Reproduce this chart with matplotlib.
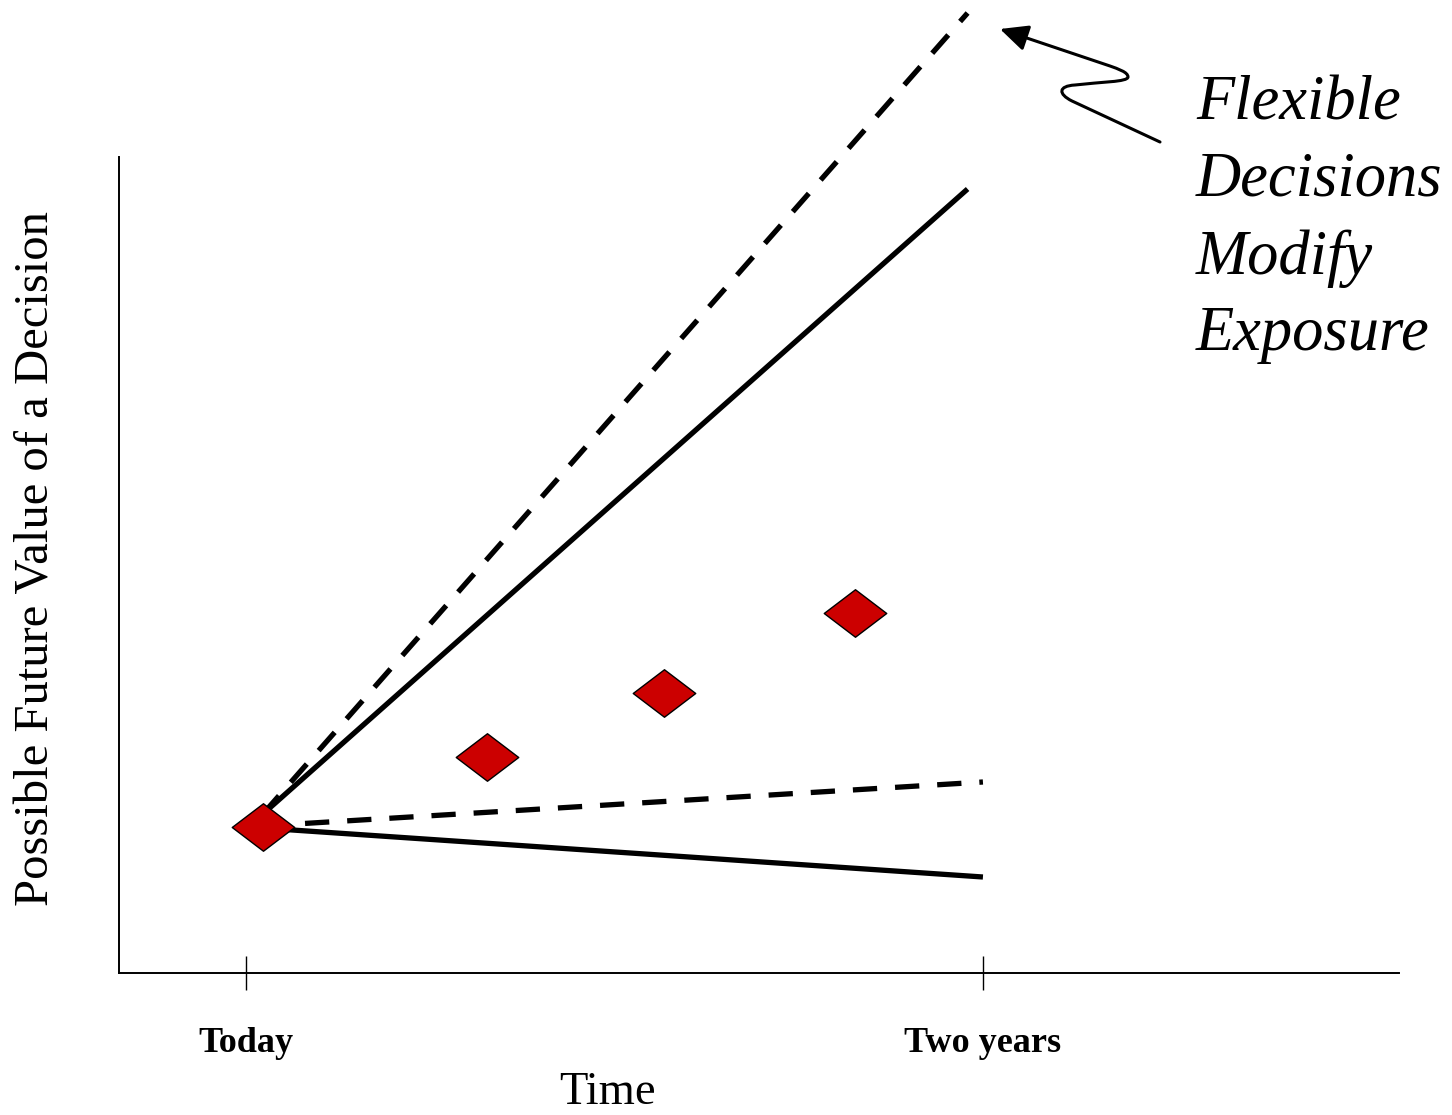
import matplotlib
matplotlib.use("Agg")
import matplotlib.pyplot as plt
import matplotlib.transforms as mtransforms
from matplotlib.path import Path
from matplotlib.patches import FancyArrowPatch

# ---------------- data (x in months from today, y in arbitrary value units) -------------
tick_positions = [0, 24]
tick_labels = ["Today", "Two years"]

upper_dashed_x = [0.55, 23.5]
upper_dashed_y = [15.9, 96.0]
upper_solid_x = [0.55, 23.5]
upper_solid_y = [15.9, 78.4]
lower_dashed_x = [0.55, 24.0]
lower_dashed_y = [14.7, 19.1]
lower_solid_x = [0.55, 24.0]
lower_solid_y = [14.5, 9.6]

diamond_x = [0.55, 7.85, 13.6, 19.83]
diamond_y = [14.6, 21.6, 28.0, 36.0]

annotation_text = "Flexible\nDecisions\nModify\nExposure"
xlabel_text = "Time"
ylabel_text = "Possible Future Value of a Decision"

# ---------------- figure ----------------
W, H = 1452, 1115
fig = plt.figure(figsize=(W / 100, H / 100), dpi=100)
ax = fig.add_axes([119 / W, (H - 973) / H, 1280 / W, 816 / H])
ax.set_xlim(-4.136, 37.55)
ax.set_ylim(0, 81.6)

serif = "Liberation Serif"
lw = 3.8
dash = (0, (4.6, 3.4))

ax.plot(upper_dashed_x, upper_dashed_y, color="black", lw=lw, ls=dash, clip_on=False, zorder=2)
ax.plot(upper_solid_x, upper_solid_y, color="black", lw=lw, clip_on=False, zorder=2,
        solid_capstyle="butt")
ax.plot(lower_dashed_x, lower_dashed_y, color="black", lw=lw, ls=dash, clip_on=False, zorder=2)
ax.plot(lower_solid_x, lower_solid_y, color="black", lw=lw, clip_on=False, zorder=2,
        solid_capstyle="butt")

diamond = Path([(-1, 0), (0, 0.76), (1, 0), (0, -0.76), (-1, 0)],
               [Path.MOVETO, Path.LINETO, Path.LINETO, Path.LINETO, Path.CLOSEPOLY])
ax.plot(diamond_x, diamond_y, ls="none", marker=diamond, markersize=45,
        markerfacecolor="#CC0000", markeredgecolor="black", markeredgewidth=1.0,
        clip_on=False, zorder=3)

# spines / ticks
for s in ["top", "right"]:
    ax.spines[s].set_visible(False)
for s in ["left", "bottom"]:
    ax.spines[s].set_linewidth(1.4)
ax.set_yticks([])
ax.set_xticks(tick_positions)
ax.set_xticklabels(tick_labels, fontfamily=serif, fontweight="bold", fontsize=26)
ax.tick_params(axis="x", direction="inout", length=24, width=1.0, pad=27)

ax.set_xlabel(xlabel_text, fontfamily=serif, fontsize=33.5)
ax.xaxis.set_label_coords((607 - 119) / 1280, -(1104 - 973) / 816)
ax.xaxis.label.set_va("baseline")

ax.set_ylabel(ylabel_text, fontfamily=serif, fontsize=35, va="center")
ax.yaxis.set_label_coords((37 - 119) / 1280, (973 - 559) / 816)

# pixel transform (origin top-left) for annotation placement
pix = mtransforms.Affine2D().scale(1 / W, -1 / H).translate(0, 1) + fig.transFigure

fig.text(1196, 75, annotation_text, transform=pix, fontfamily=serif, style="italic",
         fontsize=45, ha="left", va="top", linespacing=1.43)

squiggle = Path(
    [(1160, 142), (1072, 101),
     (1058, 94), (1058, 86), (1075, 85),
     (1100, 82), (1128, 82), (1128, 77),
     (1128, 72), (1118, 69), (1110, 66),
     (1000, 29)],
    [Path.MOVETO, Path.LINETO,
     Path.CURVE4, Path.CURVE4, Path.CURVE4,
     Path.CURVE4, Path.CURVE4, Path.CURVE4,
     Path.CURVE4, Path.CURVE4, Path.CURVE4,
     Path.LINETO])
arrow = FancyArrowPatch(path=squiggle, transform=pix,
                        arrowstyle="-|>,head_length=0.85,head_width=0.4",
                        mutation_scale=20, lw=2.2, color="black",
                        shrinkA=0, shrinkB=0)
fig.add_artist(arrow)

fig.savefig("out.png", dpi=100, facecolor="white")
